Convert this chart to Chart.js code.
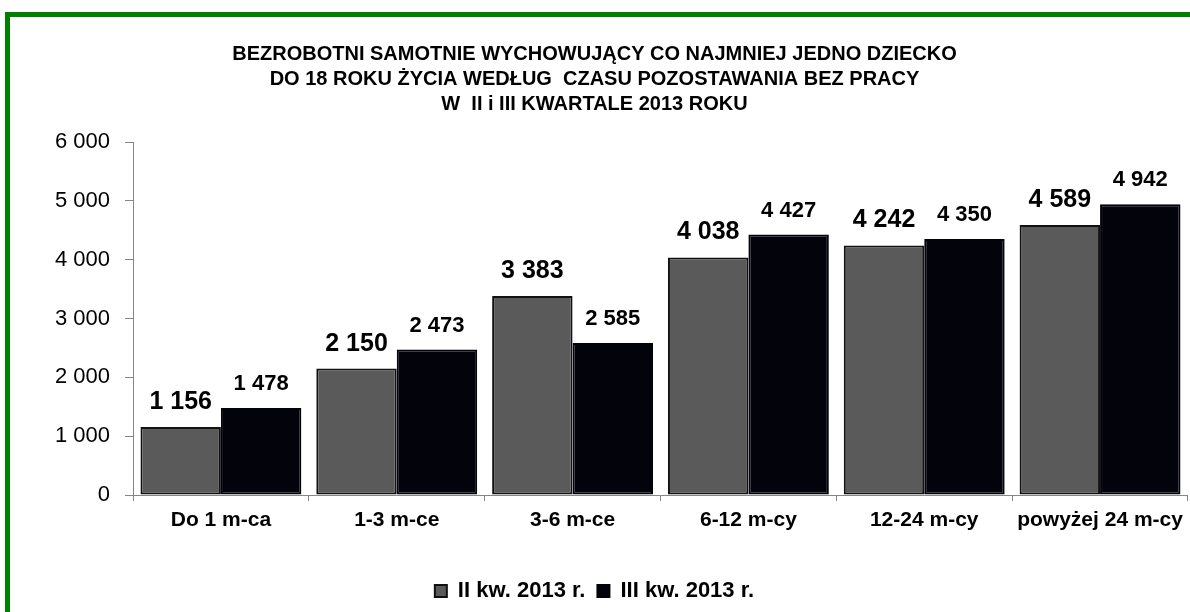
<!DOCTYPE html>
<html>
<head>
<meta charset="utf-8">
<script src="https://cdn.jsdelivr.net/npm/chart.js@4.4.0/dist/chart.umd.min.js"></script>
<style>
  body { margin: 0; background: #fff; }
  #frame { position: absolute; left: 5px; top: 12px; width: 1185px; height: 600px;
           border-left: 5px solid #008000; border-top: 5px solid #008000; box-sizing: border-box; }
  #chart { position: absolute; left: 0; top: 0; }
</style>
</head>
<body>
<div id="frame"></div>
<canvas id="chart" width="1190" height="612"></canvas>
<script>
// categories and values
var categories = ["Do 1 m-ca", "1-3 m-ce", "3-6 m-ce", "6-12 m-cy", "12-24 m-cy", "powyżej 24 m-cy"];
var seriesNames = ["II kw. 2013 r.", "III kw. 2013 r."];
var q2Values = [1156, 2150, 3383, 4038, 4242, 4589];
var q3Values = [1478, 2473, 2585, 4427, 4350, 4942];
var yTicks = [0, 1000, 2000, 3000, 4000, 5000, 6000];

var titleLines = ["BEZROBOTNI SAMOTNIE WYCHOWUJĄCY CO NAJMNIEJ JEDNO DZIECKO",
                  "DO 18 ROKU ŻYCIA WEDŁUG  CZASU POZOSTAWANIA BEZ PRACY",
                  "W  II i III KWARTALE 2013 ROKU"];

var FONT = 'Arial, "Liberation Sans", sans-serif';

//thousands with a space, like "1 156"
function fmt(v) {
  return String(v).replace(/\B(?=(\d{3})+(?!\d))/g, ' ');
}

//value labels above bars, first series a bit bigger
var labelSizes = [25, 22];
var valueLabels = {
  id: 'valueLabels',
  afterDatasetsDraw: function(chart) {
    var ctx = chart.ctx;
    chart.data.datasets.forEach(function(ds, i) {
      var meta = chart.getDatasetMeta(i);
      ctx.save();
      ctx.font = 'bold ' + labelSizes[i] + 'px ' + FONT;
      ctx.fillStyle = '#000';
      ctx.textAlign = 'center';
      ctx.textBaseline = 'alphabetic';
      meta.data.forEach(function(bar, j) {
        ctx.fillText(fmt(ds.data[j]), bar.x, bar.y - 18);
      });
      ctx.restore();
    });
  }
};

var legendHeight = 22 + 12 + 10;

var barChart = new Chart(document.getElementById("chart"), {
  type: 'bar',
  data: {
    labels: categories,
    datasets: [{
      label: seriesNames[0],
      data: q2Values,
      backgroundColor: "#5a5a5a",
      borderColor: "#111111",
      borderWidth: 2,
      borderSkipped: false,
      categoryPercentage: 0.915,
      barPercentage: 1
    }, {
      label: seriesNames[1],
      data: q3Values,
      backgroundColor: "#03030b",
      borderColor: "#03030b",
      borderWidth: 2,
      borderSkipped: false,
      categoryPercentage: 0.915,
      barPercentage: 1
    }]
  },
  options: {
    responsive: false,
    animation: false,
    layout: { padding: { top: 42, right: 1, left: 0, bottom: 0 } },
    plugins: {
      title: {
        display: true,
        text: titleLines,
        color: '#000',
        font: { family: FONT, size: 20, weight: 'bold', lineHeight: 1.25 },
        padding: { top: 0, bottom: 25 }
      },
      legend: {
        position: 'bottom',
        labels: {
          color: '#000',
          boxWidth: 12,
          boxHeight: 12,
          padding: 12,
          font: { family: FONT, size: 22, weight: 'bold' }
        }
      },
      tooltip: { enabled: false }
    },
    scales: {
      x: {
        grid: { drawOnChartArea: false, color: '#868686', tickLength: 6, offset: true },
        border: { color: '#868686', width: 1 },
        ticks: { color: '#000', padding: 7, maxRotation: 0, font: { family: FONT, size: 21, weight: 'bold' } },
        afterFit: function(s) { s.height = 117 - legendHeight; }
      },
      y: {
        min: yTicks[0],
        max: yTicks[yTicks.length - 1],
        grid: { drawOnChartArea: false, color: '#868686', tickLength: 8 },
        border: { color: '#868686', width: 1 },
        ticks: {
          stepSize: yTicks[1] - yTicks[0],
          color: '#000',
          padding: 15,
          font: { family: FONT, size: 22 },
          callback: function(v) { return fmt(v); }
        },
        afterFit: function(s) { s.width = 133; }
      }
    }
  },
  plugins: [valueLabels]
});
</script>
</body>
</html>
